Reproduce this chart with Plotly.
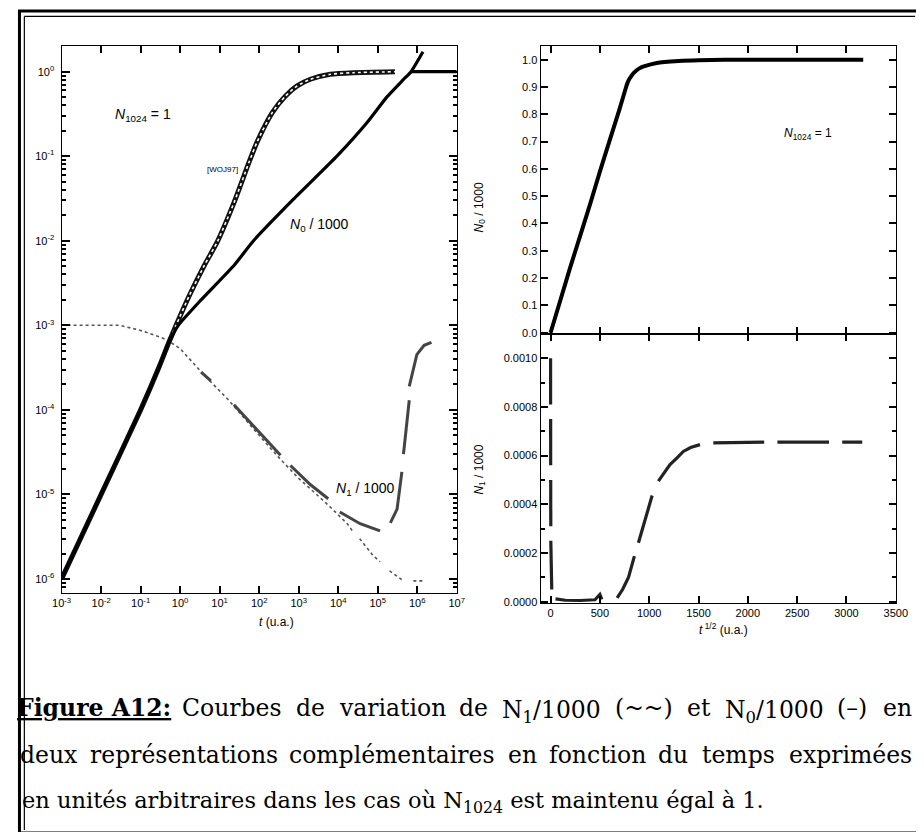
import plotly.graph_objects as go

# ---------------- data ----------------
# Left panel (log-log): t (u.a.) vs value
woj_t = [1e-3, 1e-2, 0.1, 0.3, 0.52, 0.79, 1.71, 4.07, 8.83, 23.2, 55.5, 90.2, 215, 465, 916, 1980, 6310, 2.44e4, 2.74e5]
woj_v = [1e-6, 1e-5, 1e-4, 3.3e-4, 6.3e-4, 1.0e-3, 2.25e-3, 5.08e-3, 9.84e-3, 0.0284, 0.085, 0.15, 0.328, 0.516,
         0.678, 0.813, 0.931, 0.973, 0.998]

n0_t = [1e-3, 1e-2, 0.1, 0.3, 0.52, 0.9, 3.4, 23, 72, 741, 9300, 5.4e4, 1.7e5, 4.4e5, 7e5, 1.4e6]
n0_v = [1e-6, 1e-5, 1e-4, 3.3e-4, 6.3e-4, 1e-3, 2.0e-3, 5.1e-3, 1e-2, 0.031, 0.1, 0.25, 0.5, 0.8, 1.0, 1.72]

n0_plateau_t = [7e5, 1e7]
n0_plateau_v = [1.0, 1.0]

n1ref_t = [1e-3, 0.03, 0.1, 0.33, 0.49, None, 0.6, 1.0, 4, 17, 100, 347, 1000, 5600, 1.7e4, 2.4e4,
           None, 3.5e4, 7.6e4, 1.15e5, None, 2.0e5, 4.5e5, None, 8e5, 1.5e6]
n1ref_v = [1e-3, 1e-3, 8.7e-4, 7.2e-4, 6.6e-4, None, 6.2e-4, 5.3e-4, 2.6e-4, 1.3e-4, 5.0e-5, 2.6e-5, 1.55e-5, 7.5e-6,
           4.5e-6, 3.6e-6, None, 3.0e-6, 1.9e-6, 1.6e-6, None, 1.25e-6, 9.5e-7, None, 9.5e-7, 9.5e-7]

n1_t = [3.4, 6, None, 23, 100, 347, None, 620, 2000, 5600, None, 1.1e4, 3.6e4, 1.15e5, None,
        2.1e5, 3.1e5, 4.1e5, None, 4.5e5, 5.5e5, 6.3e5, None, 6.3e5, 9.8e5, 1.5e6, 2.3e6]
n1_v = [2.8e-4, 2.2e-4, None, 1.15e-4, 5.5e-5, 2.9e-5, None, 2.2e-5, 1.3e-5, 8.9e-6, None, 6.2e-6, 4.5e-6, 3.7e-6, None,
        4.6e-6, 6.7e-6, 1.85e-5, None, 3.0e-5, 7.2e-5, 1.3e-4, None, 1.9e-4, 4.5e-4, 5.8e-4, 6.3e-4]

# Right panels: t^1/2 (u.a.)
n0s_x = [0, 100, 200, 300, 400, 500, 600, 700, 766, 780, 800, 820, 840, 870, 900, 945, 1077, 1300, 1500, 2000, 3170]
n0s_v = [0, 0.12, 0.24, 0.355, 0.47, 0.59, 0.705, 0.82, 0.9, 0.915, 0.93, 0.94, 0.95, 0.96, 0.968, 0.975, 0.988,
         0.995, 0.998, 1.0, 1.0]

n1s_x = [0.03, 0.3, 0.5, None, 0.6, 0.8, 1.0, None, 1.3, 1.7, 2.1, None, 2.4, 3.2, 4.5, 8, 12, None,
         50, 150, 300, 450, 500, 520, None,
         675, 730, 790, 850, None, 891, 960, 1030, None,
         1093, 1150, 1211, 1280, 1346, 1420, 1515, None,
         1650, 1900, 2166, None, 2300, 2560, 2823, None, 2957, 3160]
n1s_v = [0.001, 0.00088, 0.00081, None, 0.00075, 0.00065, 0.00056, None, 0.0005, 0.0004, 0.00031, None,
         0.00025, 0.00018, 0.00012, 0.00007, 0.00005, None,
         0.000012, 0.000006, 0.000005, 0.000008, 0.00003, 0.00001, None,
         0.000016, 0.00005, 0.0001, 0.000187, None, 0.000242, 0.00034, 0.000436, None,
         0.000495, 0.00053, 0.000563, 0.00059, 0.000617, 0.000633, 0.000645, None,
         0.000652, 0.000655, 0.000655, None, 0.000655, 0.000655, 0.000655, None, 0.000655, 0.000655]

# tick labels
log_x_ticks = [1e-3, 1e-2, 1e-1, 1e0, 1e1, 1e2, 1e3, 1e4, 1e5, 1e6, 1e7]
log_x_text = ["10<sup>-3</sup>", "10<sup>-2</sup>", "10<sup>-1</sup>", "10<sup>0</sup>", "10<sup>1</sup>",
              "10<sup>2</sup>", "10<sup>3</sup>", "10<sup>4</sup>", "10<sup>5</sup>", "10<sup>6</sup>", "10<sup>7</sup>"]
log_y_ticks = [1e-6, 1e-5, 1e-4, 1e-3, 1e-2, 1e-1, 1e0]
log_y_text = ["10<sup>-6</sup>", "10<sup>-5</sup>", "10<sup>-4</sup>", "10<sup>-3</sup>",
              "10<sup>-2</sup>", "10<sup>-1</sup>", "10<sup>0</sup>"]
n1_y_ticks = [0, 0.0002, 0.0004, 0.0006, 0.0008, 0.0010]
n1_y_text = ["0.0000", "0.0002", "0.0004", "0.0006", "0.0008", "0.0010"]

# caption (justified lines split into words, last line natural)
caption_line1 = ["<b><u>Figure A12:</u></b>", "Courbes", "de", "variation", "de", "N<sub>1</sub>/1000", "(~~)",
                 "et", "N<sub>0</sub>/1000", "(–)", "en"]
caption_line2 = ["deux", "représentations", "complémentaires", "en", "fonction", "du", "temps", "exprimées"]
caption_line3 = "en unités arbitraires dans les cas où N<sub>1024</sub> est maintenu égal à 1."

# ---------------- layout helpers ----------------
W, H = 924, 832
AX, BX = 0.976, 16.4     # observed placement of the page in the capture
AY, BY = 0.9936, 5.3


def px(x):
    return ((x - BX) / AX) / W


def py(y):
    return 1 - ((y - BY) / AY) / H


def rx(x):
    return x / W


def ry(y):
    return 1 - y / H


SANS = "Liberation Sans, Arial, sans-serif"
SERIF = "DejaVu Serif, serif"
CAP = 23.5
CAP3 = 22.5

# approximate advance widths (per 2048 em) used only to spread caption words
_ADV = {" ": 651, "a": 1255, "b": 1300, "c": 1126, "d": 1300, "e": 1260, "f": 721, "g": 1300, "h": 1298,
        "i": 569, "j": 569, "k": 1186, "l": 569, "m": 1995, "n": 1298, "o": 1253, "p": 1300, "q": 1300,
        "r": 842, "s": 1067, "t": 803, "u": 1298, "v": 1212, "w": 1675, "x": 1212, "y": 1212, "z": 1075,
        "é": 1260, "à": 1255, "ù": 1298, "C": 1430, "N": 1532, "F": 1178, "A": 1401, "/": 690, "(": 799,
        ")": 799, "~": 1716, "–": 1024, ".": 651, ":": 690}


def text_width(s, size):
    import re
    total = 0.0
    bold = "<b>" in s
    parts = re.split(r"(<sub>.*?</sub>)", s)
    for p in parts:
        scale = 1.0
        if p.startswith("<sub>"):
            scale = 0.7
        p = re.sub(r"<[^>]+>", "", p)
        for ch in p:
            w = _ADV.get(ch, 1303 if ch.isdigit() else 1250)
            total += w * scale
    w = total / 2048 * size
    return w * (1.1 if bold else 1.0)


def justify(words, y, left=18, right=910, size=CAP):
    widths = [text_width(w, size) for w in words]
    gap = (right - left - sum(widths)) / (len(words) - 1)
    out = []
    x = left
    for w, wd in zip(words, widths):
        yy = y + (3.5 if "<sub>" in w else 0)   # keep baselines aligned
        out.append(dict(x=px(x + wd / 2), y=py(yy), xanchor="center", text=w,
                        font=dict(family=SERIF, size=size)))
        x += wd + gap
    return out


fig = go.Figure()

# left panel traces
fig.add_trace(go.Scatter(x=n1ref_t, y=n1ref_v, mode="lines", line=dict(color="#555", width=1.6, dash="dot"),
                         xaxis="x", yaxis="y", connectgaps=False))
fig.add_trace(go.Scatter(x=n1_t, y=n1_v, mode="lines", line=dict(color="#444", width=3),
                         xaxis="x", yaxis="y", connectgaps=False))
fig.add_trace(go.Scatter(x=woj_t, y=woj_v, mode="lines", line=dict(color="#111", width=5, shape="spline", smoothing=0.6),
                         xaxis="x", yaxis="y"))
fig.add_trace(go.Scatter(x=woj_t, y=woj_v, mode="lines",
                         line=dict(color="white", width=1.6, dash="dot", shape="spline", smoothing=0.6),
                         xaxis="x", yaxis="y"))
fig.add_trace(go.Scatter(x=n0_t, y=n0_v, mode="lines", line=dict(color="black", width=3.2, shape="spline", smoothing=0.5),
                         xaxis="x", yaxis="y"))
fig.add_trace(go.Scatter(x=n0_plateau_t, y=n0_plateau_v, mode="lines", line=dict(color="black", width=3.2),
                         xaxis="x", yaxis="y"))

# right top
fig.add_trace(go.Scatter(x=n0s_x, y=n0s_v, mode="lines", line=dict(color="black", width=4, shape="spline", smoothing=0.5),
                         xaxis="x2", yaxis="y2"))
# right bottom
fig.add_trace(go.Scatter(x=n1s_x, y=n1s_v, mode="lines", line=dict(color="#222", width=3.2),
                         xaxis="x3", yaxis="y3", connectgaps=False))

axis_common = dict(showline=True, linecolor="black", linewidth=1.3, mirror="allticks", ticks="inside",
                   tickcolor="black", showgrid=False, zeroline=False,
                   tickfont=dict(family=SANS, size=11, color="black"))

xl = dict(axis_common, type="log", range=[-3, 7], domain=[px(60), px(455)], anchor="y",
          tickmode="array", tickvals=log_x_ticks, ticktext=log_x_text, ticklen=7, tickwidth=1.5)
yl = dict(axis_common, type="log", range=[-6.165, 0.307], domain=[py(590), py(43)], anchor="x",
          tickmode="array", tickvals=log_y_ticks, ticktext=log_y_text, ticklen=8, tickwidth=1.5,
          minor=dict(ticks="inside", ticklen=4, tickcolor="black", dtick="D1", showgrid=False),
          ticklabelstandoff=4)

x2 = dict(axis_common, range=[-100, 3500], domain=[px(539), px(894)], anchor="y2",
          dtick=500, tick0=0, showticklabels=False, ticklen=7, tickwidth=1.5)
y2 = dict(axis_common, range=[-0.004, 1.051], domain=[py(331), py(43)], anchor="x2",
          dtick=0.1, tick0=0, tickformat=".1f", ticklen=7, tickwidth=1.5)

x3 = dict(axis_common, range=[-100, 3500], domain=[px(539), px(894)], anchor="y3",
          dtick=500, tick0=0, ticklen=7, tickwidth=1.5)
y3 = dict(axis_common, range=[-0.000005, 0.0011], domain=[py(600), py(331)], anchor="x3",
          tickmode="array", tickvals=n1_y_ticks, ticktext=n1_y_text, ticklen=7, tickwidth=1.5,
          minor=dict(ticks="inside", ticklen=4, tickcolor="black", dtick=0.0001, tick0=0, showgrid=False))

annotations = [
    dict(x=px(141), y=py(112), text="<i>N</i><sub>1024</sub> = 1", font=dict(family=SANS, size=14)),
    dict(x=px(221), y=py(167), text="[WOJ97]", font=dict(family=SANS, size=8)),
    dict(x=px(318), y=py(222), text="<i>N</i><sub>0</sub> / 1000", font=dict(family=SANS, size=14)),
    dict(x=px(364), y=py(486), text="<i>N</i><sub>1</sub> / 1000", font=dict(family=SANS, size=14)),
    dict(x=px(806), y=py(131), text="<i>N</i><sub>1024</sub> = 1", font=dict(family=SANS, size=12)),
    dict(x=px(275), y=py(619), text="<i>t</i> (u.a.)", font=dict(family=SANS, size=12)),
    dict(x=px(722), y=py(626), text="<i>t</i><sup> 1/2</sup> (u.a.)", font=dict(family=SANS, size=12)),
    dict(x=px(478), y=py(205), text="<i>N</i><sub>0</sub> / 1000", textangle=-90, font=dict(family=SANS, size=12)),
    dict(x=px(478), y=py(467), text="<i>N</i><sub>1</sub> / 1000", textangle=-90, font=dict(family=SANS, size=12)),
]
annotations += justify(caption_line1, 705)
annotations += justify(caption_line2, 752)
annotations.append(dict(x=px(18), y=py(799), xanchor="left", text=caption_line3, font=dict(family=SERIF, size=CAP3)))

for a in annotations:
    a.setdefault("xanchor", "center")
    a.update(xref="paper", yref="paper", yanchor="middle", showarrow=False)
    a["font"].setdefault("color", "black")

shapes = [
    dict(type="rect", xref="paper", yref="paper", x0=rx(1.5), x1=rx(922.5), y0=ry(830), y1=ry(3),
         line=dict(color="black", width=3)),
    dict(type="line", xref="paper", yref="paper", x0=rx(6.5), x1=rx(6.5), y0=ry(827), y1=ry(8.5),
         line=dict(color="black", width=1.2)),
    dict(type="line", xref="paper", yref="paper", x0=rx(6.5), x1=rx(919), y0=ry(8.5), y1=ry(8.5),
         line=dict(color="black", width=1.2)),
]

fig.update_layout(
    width=W, height=H, margin=dict(l=0, r=0, t=0, b=0),
    paper_bgcolor="white", plot_bgcolor="white", showlegend=False,
    xaxis=xl, yaxis=yl, xaxis2=x2, yaxis2=y2, xaxis3=x3, yaxis3=y3,
    annotations=annotations, shapes=shapes,
)

fig.write_html("out.html")
